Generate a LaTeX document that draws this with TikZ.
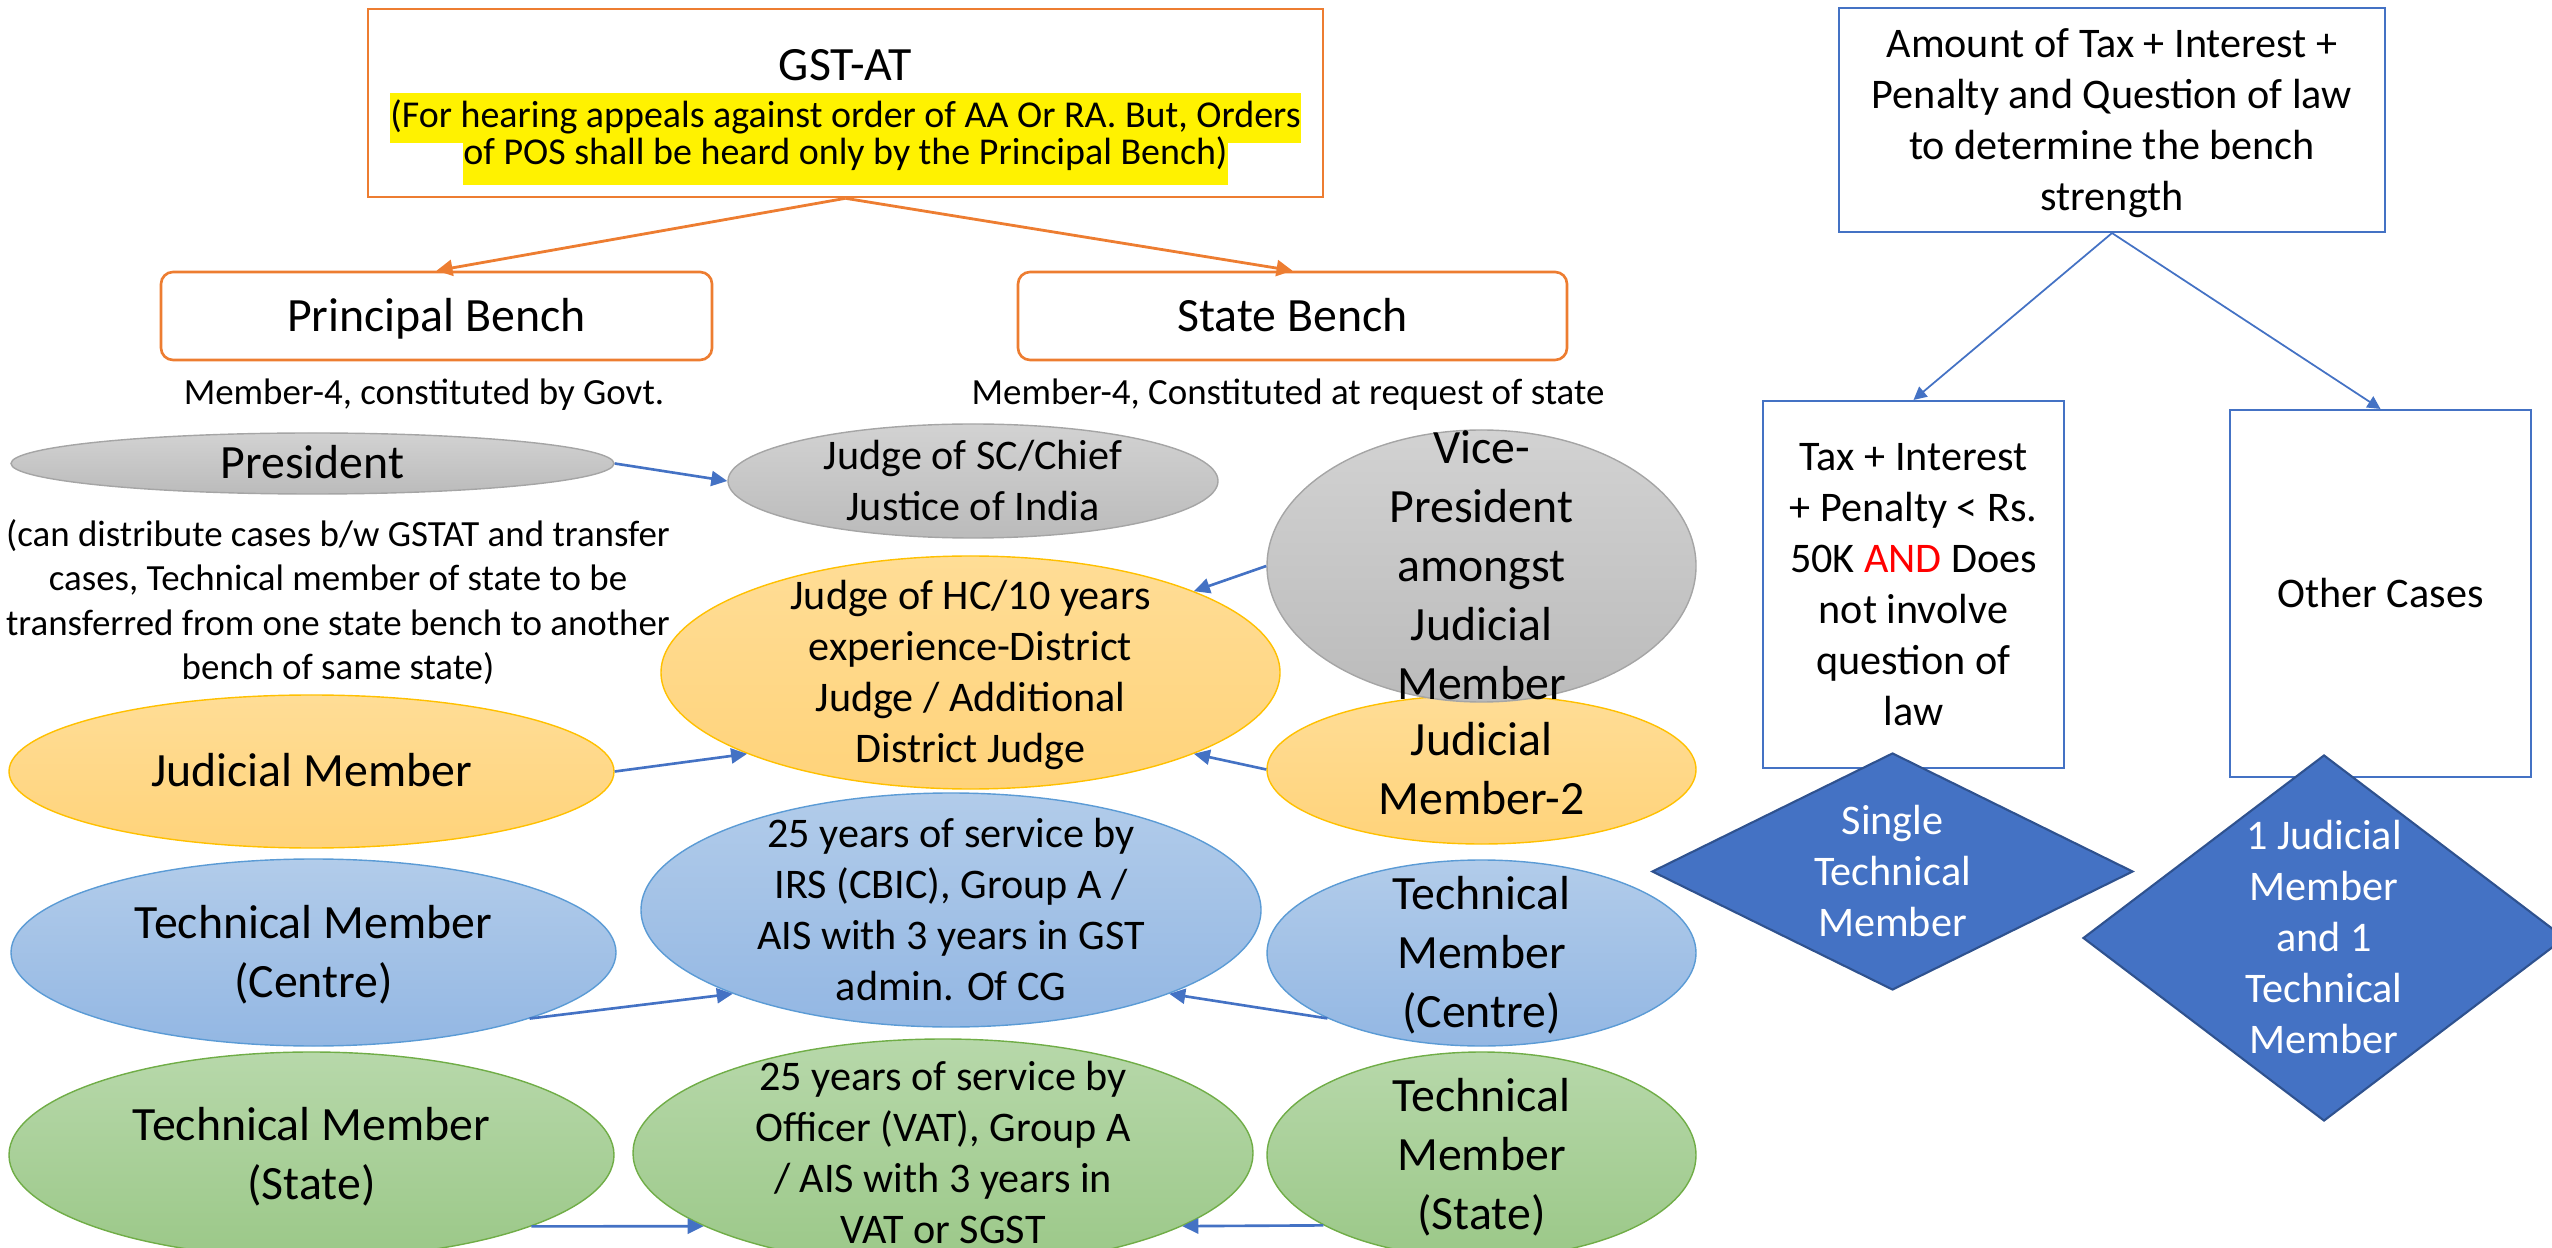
\documentclass[tikz,border=0pt]{standalone}
\usepackage{fontspec}
\setmainfont{Carlito}
\usepackage{tikz}
\usetikzlibrary{arrows.meta,shapes.geometric}
\definecolor{OrgLine}{HTML}{ED7D31}
\definecolor{GryLine}{HTML}{A5A5A5}
\definecolor{GryTop}{HTML}{D2D2D2}
\definecolor{GryBot}{HTML}{BBBBBB}
\definecolor{YelLine}{HTML}{FFC000}
\definecolor{YelTop}{HTML}{FFDD96}
\definecolor{YelBot}{HTML}{FFD37A}
\definecolor{BluLine}{HTML}{5B9BD5}
\definecolor{BluTop}{HTML}{B2CCEA}
\definecolor{BluBot}{HTML}{93B7E3}
\definecolor{GrnLine}{HTML}{70AD47}
\definecolor{GrnTop}{HTML}{B7D8AA}
\definecolor{GrnBot}{HTML}{9BC888}
\definecolor{DiaFill}{HTML}{4472C4}
\definecolor{DiaEdge}{HTML}{2F528F}
\newcommand{\fBig}{\fontsize{13.6}{16.8}\selectfont}
\newcommand{\fMid}{\fontsize{12}{14.5}\selectfont}
\newcommand{\fSml}{\fontsize{10.5}{12.6}\selectfont}
\newcommand{\fHil}{\fontsize{10.8}{10.3}\selectfont}
% text of fixed-size shapes: a box of no size, lines centred on it
\newcommand{\Etx}[2]{\raisebox{-1pt}[0pt][0pt]{\makebox[0pt]{\parbox[b][0pt][c]{#1}{\centering\strut #2\strut}}}}
% highlighted line: text, band depth, band height
\newcommand{\Hl}[3]{{\setlength{\fboxsep}{0pt}\colorbox{yellow}{\rule[-#2]{0pt}{#3}\smash{#1}}}}
\tikzset{
  Obox/.style={draw=OrgLine, line width=0.75pt, inner sep=0pt},
  Pbox/.style={draw=OrgLine, line width=0.75pt, rounded corners=0.12cm,
               inner sep=0pt, font=\fBig},
  Note/.style={align=center, inner sep=0pt, font=\fSml},
  Gell/.style={ellipse, draw=GryLine, line width=0.4pt, top color=GryTop,
               bottom color=GryBot, inner sep=0pt},
  Yell/.style={ellipse, draw=YelLine, line width=0.4pt, top color=YelTop,
               bottom color=YelBot, inner sep=0pt},
  Bell/.style={ellipse, draw=BluLine, line width=0.4pt, top color=BluTop,
               bottom color=BluBot, inner sep=0pt},
  Lell/.style={ellipse, draw=GrnLine, line width=0.4pt, top color=GrnTop,
               bottom color=GrnBot, inner sep=0pt},
  Rbox/.style={draw=DiaFill, line width=0.6pt, inner sep=0pt, font=\fMid},
  Ddia/.style={diamond, draw=DiaEdge, line width=0.6pt, fill=DiaFill,
               text=white, inner sep=0pt, font=\fMid},
  Oarr/.style={-{Triangle[length=1.6mm, width=1.6mm]}, OrgLine, line width=0.8pt},
  Barr/.style={-{Triangle[length=1.6mm, width=1.5mm]}, DiaFill, line width=0.75pt},
  Tarr/.style={-{Triangle[length=1.3mm, width=1.3mm]}, DiaFill, line width=0.5pt}
}
\begin{document}
\begin{tikzpicture}
  \useasboundingbox (0,0) rectangle (25.52,-12.48);
  % tribunal and its benches
  \node[Obox, minimum width=9.55cm, minimum height=1.88cm, font=\fHil] (gst) at (8.455,-1.03)
    {\raisebox{-3pt}[0pt][0pt]{\Etx{9.5cm}{\lineskiplimit=-100pt {\fBig GST-AT}\\[3.2pt]
     \Hl{(For hearing appeals against order of AA Or RA. But, Orders}{4.3pt}{14.3pt}\\
     \Hl{of POS shall be heard only by the Principal Bench)}{5.9pt}{12.1pt}}}};
  \node[Pbox, minimum width=5.51cm, minimum height=0.88cm] (pb) at (4.365,-3.16)
    {\Etx{5.4cm}{Principal Bench}};
  \node[Pbox, minimum width=5.49cm, minimum height=0.88cm] (sb) at (12.925,-3.16)
    {\Etx{5.4cm}{State Bench}};
  \node[Note] (m4p) at (4.24,-3.95) {Member-4, constituted by Govt.};
  \node[Note] (m4s) at (12.88,-3.95) {Member-4, Constituted at request of state};
  \draw[Oarr] (gst.south) -- (pb.north);
  \draw[Oarr] (gst.south) -- (sb.north);

  % members and their qualifications
  \node[Gell, minimum width=6.03cm, minimum height=0.61cm, font=\fBig] (pres) at (3.125,-4.635)
    {\Etx{6cm}{President}};
  \node[Note] (pnote) at (3.38,-6.02)
    {(can distribute cases b/w GSTAT and transfer\\
     cases, Technical member of state to be\\
     transferred from one state bench to another\\
     bench of same state)};
  \node[Gell, minimum width=4.90cm, minimum height=1.14cm, font=\fMid] (jsc) at (9.73,-4.81)
    {\Etx{4.8cm}{Judge of SC/Chief\\ Justice of India}};
  \node[Yell, minimum width=6.19cm, minimum height=2.33cm, font=\fMid] (hc) at (9.705,-6.725)
    {\Etx{6cm}{Judge of HC/10 years\\ experience-District\\ Judge / Additional\\ District Judge}};
  \node[Yell, minimum width=6.05cm, minimum height=1.53cm, font=\fBig] (jm) at (3.115,-7.715)
    {\Etx{6cm}{Judicial Member}};
  \node[Yell, minimum width=4.29cm, minimum height=1.49cm, font=\fBig] (jm2) at (14.815,-7.695)
    {\Etx{4.2cm}{Judicial\\ Member-2}};
  \node[Gell, minimum width=4.29cm, minimum height=2.72cm, font=\fBig] (vp) at (14.815,-5.66)
    {\Etx{4.2cm}{Vice-\\ President\\ amongst\\ Judicial\\ Member}};
  \node[Bell, minimum width=6.20cm, minimum height=2.34cm, font=\fMid] (bm) at (9.51,-9.10)
    {\Etx{6cm}{25 years of service by\\ IRS (CBIC), Group A /\\ AIS with 3 years in GST\\ admin. Of CG}};
  \node[Bell, minimum width=6.05cm, minimum height=1.87cm, font=\fBig] (tcl) at (3.135,-9.525)
    {\Etx{6cm}{Technical Member\\ (Centre)}};
  \node[Bell, minimum width=4.29cm, minimum height=1.86cm, font=\fBig] (tcr) at (14.815,-9.53)
    {\Etx{4.2cm}{Technical\\ Member\\ (Centre)}};
  \node[Lell, minimum width=6.20cm, minimum height=2.28cm, font=\fMid] (gm) at (9.43,-11.53)
    {\Etx{6cm}{25 years of service by\\ Officer (VAT), Group A\\ / AIS with 3 years in\\ VAT or SGST}};
  \node[Lell, minimum width=6.05cm, minimum height=2.06cm, font=\fBig] (gl) at (3.115,-11.55)
    {\Etx{6cm}{Technical Member\\ (State)}};
  \node[Lell, minimum width=4.29cm, minimum height=2.06cm, font=\fBig] (gr) at (14.815,-11.55)
    {\Etx{4.2cm}{Technical\\ Member\\ (State)}};
  \draw[Barr] (pres.east) -- (jsc.west);
  \draw[Barr] (vp.west) -- (hc.20);
  \draw[Barr] (jm2.west) -- (hc.-20);
  \draw[Barr] (jm.east) -- (hc.200);
  \draw[Barr] (tcl.-17) -- (bm.201);
  \draw[Barr] (tcr.203) -- (bm.-21);
  \draw[Barr] (gl.-18) -- (gm.197);
  \draw[Barr] (gr.204) -- (gm.-17);

  % bench strength
  \node[Rbox, minimum width=5.46cm, minimum height=2.24cm] (tb) at (21.12,-1.20)
    {\Etx{5.4cm}{Amount of Tax + Interest +\\ Penalty and Question of law\\ to determine the bench\\ strength}};
  \node[Rbox, minimum width=3.01cm, minimum height=3.67cm] (b1) at (19.135,-5.845)
    {\Etx{3cm}{Tax + Interest\\ + Penalty < Rs.\\ 50K \textcolor{red}{AND} Does\\ not involve\\ question of\\ law}};
  \node[Rbox, minimum width=3.01cm, minimum height=3.67cm] (b2) at (23.805,-5.935)
    {\Etx{3cm}{Other Cases}};
  \node[Ddia, minimum width=4.81cm, minimum height=2.37cm] (d1) at (18.925,-8.715)
    {\Etx{4cm}{Single\\ Technical\\ Member}};
  \node[Ddia, minimum width=4.82cm, minimum height=3.66cm] (d2) at (23.24,-9.38)
    {\Etx{4cm}{1 Judicial\\ Member\\ and 1\\ Technical\\ Member}};
  \draw[Tarr] (tb.south) -- (b1.north);
  \draw[Tarr] (tb.south) -- (b2.north);
\end{tikzpicture}
\end{document}
